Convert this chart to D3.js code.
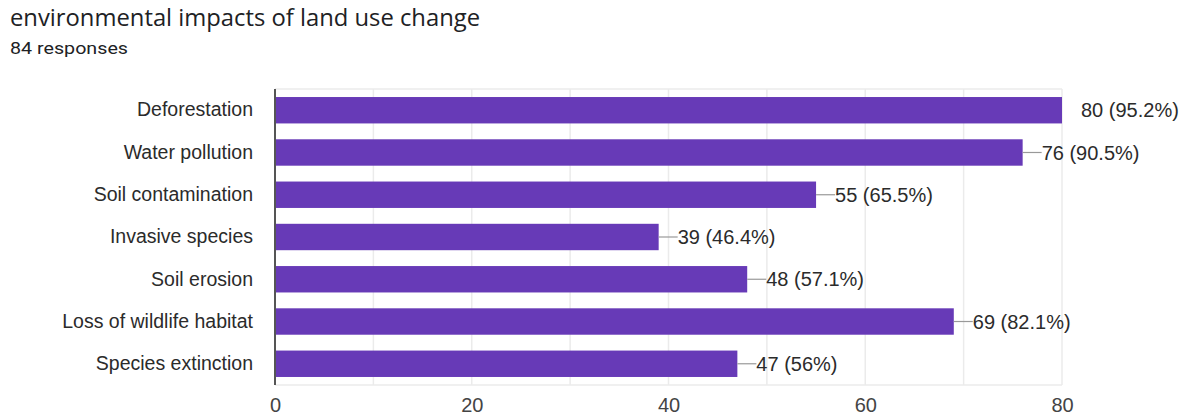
<!DOCTYPE html>
<html>
<head>
<meta charset="utf-8">
<script src="https://cdn.jsdelivr.net/npm/d3@7/dist/d3.min.js"></script>
<style>
  html, body { margin: 0; padding: 0; background: #fff; }
  svg { display: block; }
</style>
</head>
<body>
<script>
// Survey question and response count
const title = "environmental impacts of land use change";
const subtitle = "84 responses";

// Answer options and how many respondents picked each
const categories = [
  "Deforestation",
  "Water pollution",
  "Soil contamination",
  "Invasive species",
  "Soil erosion",
  "Loss of wildlife habitat",
  "Species extinction"
];
const counts = [80, 76, 55, 39, 48, 69, 47];
const percentLabels = ["95.2%", "90.5%", "65.5%", "46.4%", "57.1%", "82.1%", "56%"];

// Axis ticks
const xTicks = [0, 20, 40, 60, 80];
const xGridMinor = [10, 30, 50, 70];

const W = 1196, H = 418;
const plot = { left: 275, right: 1062, top: 89, bottom: 385 };

const svg = d3.select("body").append("svg")
  .attr("width", W).attr("height", H);

// Heading
svg.append("text")
  .attr("x", 10).attr("y", 26)
  .attr("font-family", "'Open Sans', Roboto, sans-serif")
  .attr("font-size", 23)
  .attr("fill", "#202124")
  .attr("textLength", 470)
  .attr("lengthAdjust", "spacingAndGlyphs")
  .text(title);

svg.append("text")
  .attr("x", 10).attr("y", 54)
  .attr("font-family", "Roboto, 'Open Sans', sans-serif")
  .attr("font-size", 16.5)
  .attr("fill", "#202124")
  .attr("textLength", 118)
  .attr("lengthAdjust", "spacingAndGlyphs")
  .text(subtitle);

const x = d3.scaleLinear().domain([0, 80]).range([plot.left, plot.right]);
const y = d3.scaleBand().domain(categories)
  .range([plot.top, plot.bottom]).paddingInner(0.375).paddingOuter(0.19);

const data = categories.map((c, i) => ({ cat: c, n: counts[i], pct: percentLabels[i] }));

// Grid
const grid = svg.append("g");
grid.selectAll("line.g")
  .data(xTicks.concat(xGridMinor).filter(v => v > 0))
  .join("line")
  .attr("x1", d => x(d)).attr("x2", d => x(d))
  .attr("y1", plot.top).attr("y2", plot.bottom)
  .attr("stroke", "#ebebeb").attr("stroke-width", 1.5);
grid.append("line")
  .attr("x1", plot.left).attr("x2", plot.right)
  .attr("y1", plot.top).attr("y2", plot.top)
  .attr("stroke", "#ebebeb").attr("stroke-width", 1.5);
grid.append("line")
  .attr("x1", plot.left).attr("x2", plot.right)
  .attr("y1", plot.bottom).attr("y2", plot.bottom)
  .attr("stroke", "#ebebeb").attr("stroke-width", 1.5);

// Bars
svg.append("g").selectAll("rect")
  .data(data)
  .join("rect")
  .attr("x", x(0))
  .attr("y", d => y(d.cat))
  .attr("width", d => x(d.n) - x(0))
  .attr("height", y.bandwidth())
  .attr("fill", "#673ab7");

// Zero axis line
svg.append("line")
  .attr("x1", x(0)).attr("x2", x(0))
  .attr("y1", plot.top).attr("y2", plot.bottom)
  .attr("stroke", "#555").attr("stroke-width", 2);

// Category labels
const yAxis = d3.axisLeft(y).tickSize(0).tickPadding(22);
const yg = svg.append("g").attr("transform", `translate(${x(0)},0)`).call(yAxis);
yg.select(".domain").remove();
yg.selectAll("text")
  .attr("font-family", "'Liberation Sans', Arial, sans-serif")
  .attr("font-size", 19.5)
  .attr("fill", "#2b2b2b");

// Value axis labels
const xAxis = d3.axisBottom(x).tickValues(xTicks).tickSize(0).tickPadding(13);
const xg = svg.append("g").attr("transform", `translate(0,${plot.bottom})`).call(xAxis);
xg.select(".domain").remove();
xg.selectAll("text")
  .attr("font-family", "'Liberation Sans', Arial, sans-serif")
  .attr("font-size", 20)
  .attr("fill", "#444");

// Value annotations with leader lines
const ann = svg.append("g");
ann.selectAll("line")
  .data(data.filter(d => d.n < x.domain()[1]))
  .join("line")
  .attr("x1", d => x(d.n)).attr("x2", d => x(d.n) + 19)
  .attr("y1", d => y(d.cat) + y.bandwidth() / 2)
  .attr("y2", d => y(d.cat) + y.bandwidth() / 2)
  .attr("stroke", "#999").attr("stroke-width", 1.2);
ann.selectAll("text")
  .data(data)
  .join("text")
  .attr("x", d => x(d.n) + 19)
  .attr("y", d => y(d.cat) + y.bandwidth() / 2)
  .attr("dy", "0.36em")
  .attr("font-family", "'Liberation Sans', Arial, sans-serif")
  .attr("font-size", 20)
  .attr("fill", "#2b2b2b")
  .text(d => `${d.n} (${d.pct})`);
</script>
</body>
</html>
